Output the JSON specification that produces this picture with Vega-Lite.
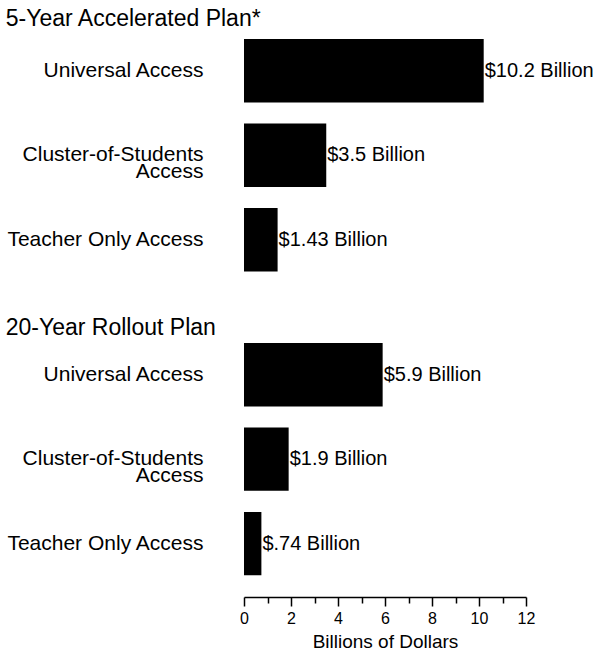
{
  "$schema": "https://vega.github.io/schema/vega-lite/v6.json",
  "padding": {"left": 5, "top": 8, "right": 0, "bottom": 0},
  "background": "white",
  "data": {
    "values": [
      {"plan": "5-Year Accelerated Plan*", "access": "Universal Access", "value": 10.2, "label": "$10.2 Billion"},
      {"plan": "5-Year Accelerated Plan*", "access": "Cluster-of-Students Access", "value": 3.5, "label": "$3.5 Billion"},
      {"plan": "5-Year Accelerated Plan*", "access": "Teacher Only Access", "value": 1.43, "label": "$1.43 Billion"},
      {"plan": "20-Year Rollout Plan", "access": "Universal Access", "value": 5.9, "label": "$5.9 Billion"},
      {"plan": "20-Year Rollout Plan", "access": "Cluster-of-Students Access", "value": 1.9, "label": "$1.9 Billion"},
      {"plan": "20-Year Rollout Plan", "access": "Teacher Only Access", "value": 0.74, "label": "$.74 Billion"}
    ]
  },
  "spacing": 29,
  "vconcat": [
    {
      "title": {"text": "5-Year Accelerated Plan*"},
      "width": 282,
      "height": 256,
      "transform": [{"filter": "datum.plan == '5-Year Accelerated Plan*'"}],
      "encoding": {
        "y": {
          "field": "access", "type": "nominal", "sort": null, "title": null,
          "scale": {"paddingInner": 0.25, "paddingOuter": 0.14, "align": 0.3},
          "axis": {
            "domain": false, "ticks": false, "labelAlign": "right", "labelPadding": 41, "labelLimit": 0,
            "labelFontSize": 21, "labelLineHeight": 17, "labelColor": "black",
            "labelExpr": "datum.label == 'Cluster-of-Students Access' ? ['Cluster-of-Students', 'Access'] : datum.label"
          }
        },
        "x": {
          "field": "value", "type": "quantitative",
          "scale": {"domain": [0, 12], "nice": false},
          "axis": null
        }
      },
      "layer": [
        {"mark": {"type": "bar", "color": "black"}},
        {"mark": {"type": "text", "align": "left", "baseline": "middle", "dx": 1, "fontSize": 20, "color": "black"},
         "encoding": {"text": {"field": "label"}}}
      ]
    },
    {
      "title": {"text": "20-Year Rollout Plan"},
      "width": 282,
      "height": 256,
      "transform": [{"filter": "datum.plan == '20-Year Rollout Plan'"}],
      "encoding": {
        "y": {
          "field": "access", "type": "nominal", "sort": null, "title": null,
          "scale": {"paddingInner": 0.25, "paddingOuter": 0.14, "align": 0.085},
          "axis": {
            "domain": false, "ticks": false, "labelAlign": "right", "labelPadding": 41, "labelLimit": 0,
            "labelFontSize": 21, "labelLineHeight": 17, "labelColor": "black",
            "labelExpr": "datum.label == 'Cluster-of-Students Access' ? ['Cluster-of-Students', 'Access'] : datum.label"
          }
        },
        "x": {
          "field": "value", "type": "quantitative",
          "scale": {"domain": [0, 12], "nice": false},
          "axis": {
            "title": "Billions of Dollars", "titleFontSize": 19, "titleFontWeight": "normal", "titleColor": "black", "titlePadding": 6,
            "values": [0, 1, 2, 3, 4, 5, 6, 7, 8, 9, 10, 11, 12],
            "labelExpr": "datum.value % 2 === 0 ? datum.label : ''",
            "grid": false, "domainColor": "black", "domainWidth": 1.5,
            "tickColor": "black", "tickWidth": 1.5,
            "tickSize": {"condition": {"test": "datum.value % 2 === 0", "value": 9}, "value": 6},
            "labelFontSize": 16, "labelColor": "black", "labelPadding": 4, "labelFlush": false
          }
        }
      },
      "layer": [
        {"mark": {"type": "bar", "color": "black"}},
        {"mark": {"type": "text", "align": "left", "baseline": "middle", "dx": 1, "fontSize": 20, "color": "black"},
         "encoding": {"text": {"field": "label"}}}
      ]
    }
  ],
  "config": {
    "font": "Liberation Sans",
    "view": {"stroke": null},
    "title": {"anchor": "start", "frame": "bounds", "fontSize": 23, "fontWeight": "normal", "color": "black", "offset": 1}
  }
}
